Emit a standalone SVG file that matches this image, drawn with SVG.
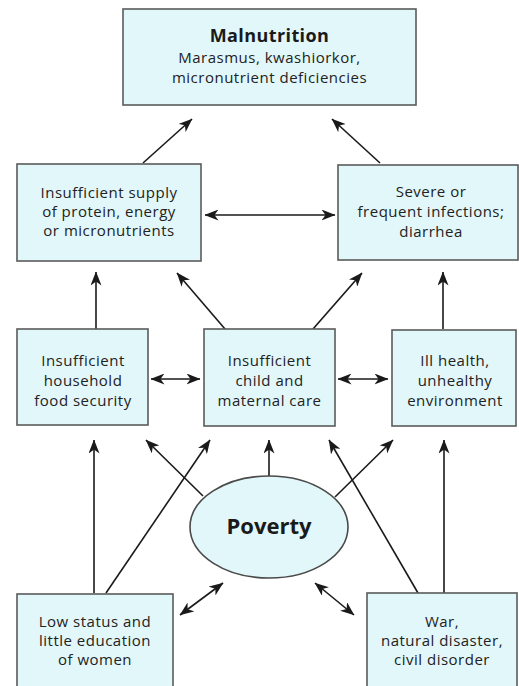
<svg xmlns="http://www.w3.org/2000/svg" width="519" height="686" viewBox="0 0 519 686">
  <style>
    .box { fill: #e2f7f9; stroke: #5a5a5a; stroke-width: 1.6; }
    .lbl { font-family: "Open Sans", Lato, "DejaVu Sans", sans-serif; font-size: 15px; letter-spacing: 0.5px; fill: #222; text-anchor: middle; }
    .title { font-family: "Open Sans", Lato, "DejaVu Sans", sans-serif; font-weight: bold; fill: #1a1a1a; text-anchor: middle; }
    .arrow { stroke: #1a1a1a; stroke-width: 1.6; fill: none; marker-end: url(#head); }
    .both { marker-start: url(#head); }
  </style>
  <defs>
    <marker id="head" viewBox="0 0 14 11" refX="13.5" refY="5.5" markerWidth="14" markerHeight="11" markerUnits="userSpaceOnUse" orient="auto-start-reverse">
      <path d="M0,0 L14,5.5 L0,11 L4,5.5 Z" fill="#1a1a1a"/>
    </marker>
  </defs>

  <rect width="519" height="686" fill="#ffffff"/>

  <g id="connectors">
    <line class="arrow" x1="143" y1="163" x2="192" y2="119"/>
    <line class="arrow" x1="380" y1="163" x2="332" y2="119"/>
    <line class="arrow both" x1="205" y1="215" x2="335" y2="215"/>
    <line class="arrow" x1="96" y1="329" x2="96" y2="272"/>
    <line class="arrow" x1="225" y1="329" x2="177" y2="273"/>
    <line class="arrow" x1="313" y1="329" x2="362" y2="273"/>
    <line class="arrow" x1="443" y1="329" x2="443" y2="272"/>
    <line class="arrow both" x1="151" y1="379" x2="200" y2="379"/>
    <line class="arrow both" x1="338" y1="379" x2="388" y2="379"/>
    <line class="arrow" x1="94" y1="593" x2="94" y2="440"/>
    <line class="arrow" x1="106" y1="593" x2="210" y2="440"/>
    <line class="arrow" x1="203" y1="496" x2="146" y2="440"/>
    <line class="arrow" x1="269" y1="476" x2="269" y2="440"/>
    <line class="arrow" x1="335" y1="497" x2="393" y2="440"/>
    <line class="arrow" x1="418" y1="593" x2="329" y2="440"/>
    <line class="arrow" x1="444" y1="593" x2="444" y2="440"/>
    <line class="arrow both" x1="180" y1="615" x2="223" y2="583"/>
    <line class="arrow both" x1="315" y1="583" x2="354" y2="615"/>
  </g>

  <g id="malnutrition">
    <rect class="box" x="123" y="9" width="293" height="96"/>
    <text class="title" x="269.5" y="42" font-size="18" letter-spacing="0.4">Malnutrition</text>
    <text class="lbl" x="269.5" y="63">Marasmus, kwashiorkor,</text>
    <text class="lbl" x="269.5" y="83">micronutrient deficiencies</text>
  </g>

  <g id="supply">
    <rect class="box" x="17" y="164" width="184" height="97"/>
    <text class="lbl" x="109" y="198">Insufficient supply</text>
    <text class="lbl" x="109" y="217">of protein, energy</text>
    <text class="lbl" x="109" y="236">or micronutrients</text>
  </g>

  <g id="infections">
    <rect class="box" x="338" y="165" width="180" height="95"/>
    <text class="lbl" x="431" y="197">Severe or</text>
    <text class="lbl" x="431" y="217">frequent infections;</text>
    <text class="lbl" x="431" y="237">diarrhea</text>
  </g>

  <g id="food-security">
    <rect class="box" x="17" y="329" width="131" height="96"/>
    <text class="lbl" x="83" y="366">Insufficient</text>
    <text class="lbl" x="83" y="386">household</text>
    <text class="lbl" x="83" y="406">food security</text>
  </g>

  <g id="care">
    <rect class="box" x="204" y="329" width="131" height="97"/>
    <text class="lbl" x="269.5" y="366">Insufficient</text>
    <text class="lbl" x="269.5" y="386">child and</text>
    <text class="lbl" x="269.5" y="406">maternal care</text>
  </g>

  <g id="health">
    <rect class="box" x="392" y="330" width="124" height="96"/>
    <text class="lbl" x="455" y="366">Ill health,</text>
    <text class="lbl" x="455" y="386">unhealthy</text>
    <text class="lbl" x="455" y="406">environment</text>
  </g>

  <g id="poverty">
    <ellipse cx="269" cy="527" rx="79" ry="51" fill="#e2f7f9" stroke="#4a4a4a" stroke-width="1.6"/>
    <text class="title" x="269" y="534" font-size="22">Poverty</text>
  </g>

  <g id="women">
    <rect class="box" x="17" y="594" width="156" height="100"/>
    <text class="lbl" x="95" y="627">Low status and</text>
    <text class="lbl" x="95" y="646">little education</text>
    <text class="lbl" x="95" y="665">of women</text>
  </g>

  <g id="disorder">
    <rect class="box" x="367" y="593" width="150" height="100"/>
    <text class="lbl" x="442" y="627">War,</text>
    <text class="lbl" x="442" y="646">natural disaster,</text>
    <text class="lbl" x="442" y="665">civil disorder</text>
  </g>
</svg>
